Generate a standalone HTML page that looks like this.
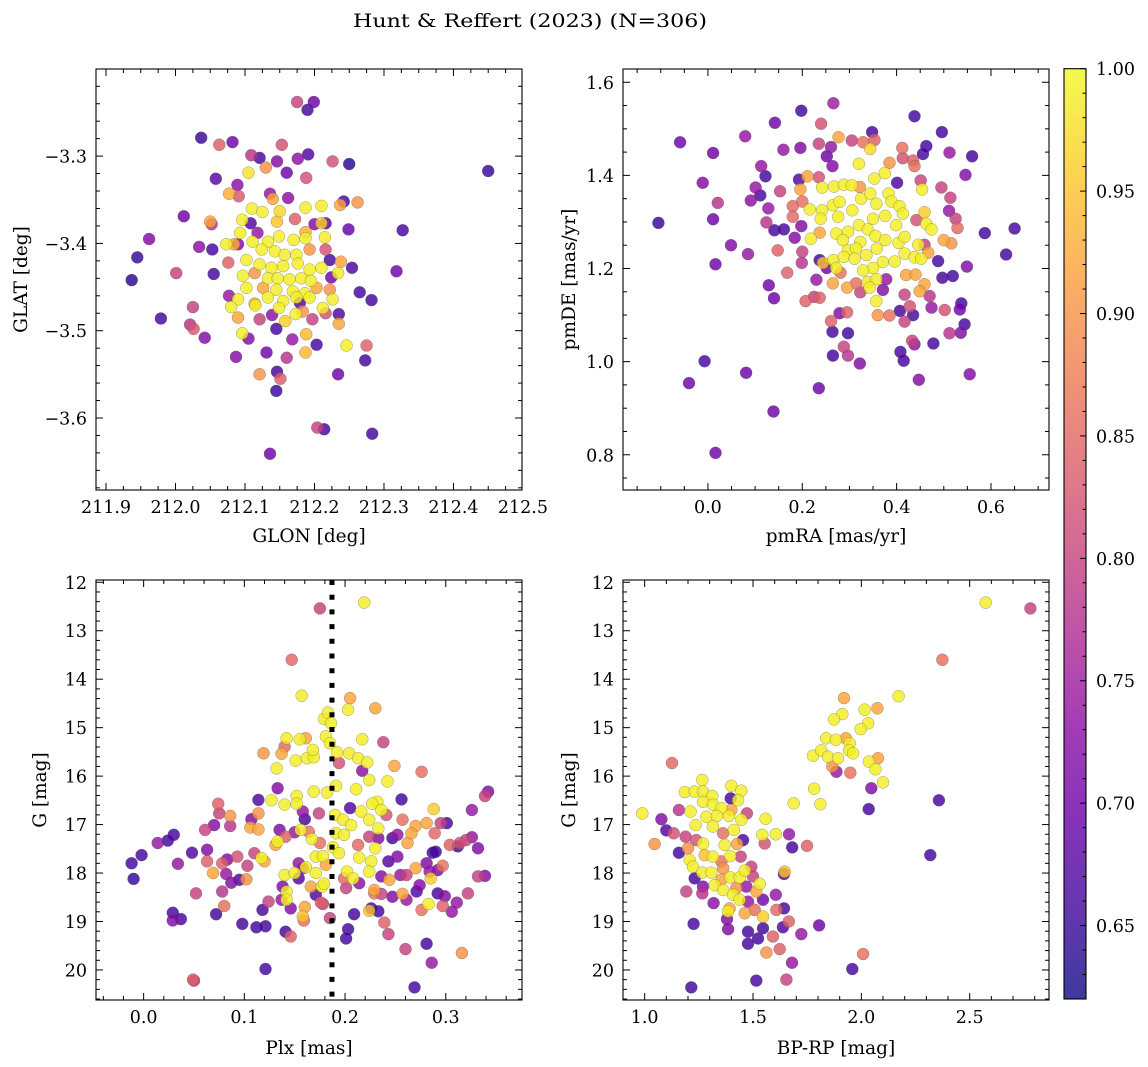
<!DOCTYPE html>
<html><head><meta charset="utf-8"><title>Hunt & Reffert (2023)</title>
<style>
html,body{margin:0;padding:0;background:#fff;}
svg{display:block;font-family:"DejaVu Serif","Liberation Serif",serif;}
</style></head>
<body>
<svg id="fig" width="1148" height="1067" viewBox="0 0 1148 1067" xmlns="http://www.w3.org/2000/svg">
<defs>
<linearGradient id="cbgrad" x1="0" y1="1" x2="0" y2="0"></linearGradient>
</defs>
<text x="530" y="27" text-anchor="middle" font-size="19" textLength="354" lengthAdjust="spacingAndGlyphs">Hunt &amp; Reffert (2023) (N=306)</text>
</svg>
<script>
// ---------- Panel 1: GLON / GLAT ----------
const glon = [
212.175,212.199,212.190,212.037,212.063,212.082,212.153,212.109,212.121,212.146,
212.176,212.191,212.226,212.250,212.450,212.130,212.105,212.160,212.188,212.058,
212.089,212.077,212.091,212.136,212.162,212.140,212.242,212.262,212.237,212.187,
212.210,212.110,212.125,212.150,212.012,212.172,212.096,212.050,212.052,212.108,
212.146,212.200,212.216,212.210,212.249,212.327,211.962,212.093,212.118,212.187,
212.215,212.034,212.053,212.073,212.090,212.084,211.945,212.111,212.133,212.149,
212.170,212.187,212.124,212.143,212.157,212.174,212.193,212.216,212.222,212.238,
212.102,212.121,212.138,212.155,212.176,212.193,212.210,212.076,212.001,212.055,
211.937,212.097,212.114,212.133,212.147,212.164,212.181,212.195,212.224,212.234,
212.254,212.318,212.102,212.126,212.145,212.169,212.186,212.203,212.222,212.077,
212.090,212.114,212.133,212.155,212.174,212.193,212.226,212.265,212.282,212.025,
212.080,212.115,212.149,212.179,212.183,212.212,212.216,211.979,212.021,212.026,
212.090,212.121,212.139,212.158,212.173,212.197,212.235,212.235,212.145,212.096,
212.105,212.042,212.188,212.168,212.203,212.246,212.275,212.087,212.131,212.160,
212.187,212.273,212.121,212.146,212.151,212.234,212.145,212.204,212.214,212.283,
212.136];
const glat = [
-3.238,-3.238,-3.247,-3.279,-3.287,-3.284,-3.287,-3.299,-3.302,-3.306,
-3.303,-3.298,-3.306,-3.309,-3.317,-3.313,-3.319,-3.319,-3.325,-3.326,
-3.333,-3.343,-3.346,-3.343,-3.348,-3.349,-3.352,-3.353,-3.356,-3.359,
-3.357,-3.360,-3.364,-3.363,-3.369,-3.372,-3.373,-3.375,-3.378,-3.377,
-3.375,-3.378,-3.377,-3.377,-3.384,-3.385,-3.395,-3.388,-3.388,-3.387,
-3.393,-3.404,-3.407,-3.401,-3.401,-3.401,-3.416,-3.398,-3.398,-3.392,
-3.396,-3.394,-3.407,-3.409,-3.413,-3.413,-3.407,-3.407,-3.419,-3.421,
-3.419,-3.424,-3.428,-3.426,-3.423,-3.430,-3.428,-3.422,-3.434,-3.435,
-3.442,-3.437,-3.434,-3.440,-3.440,-3.441,-3.440,-3.443,-3.439,-3.434,
-3.428,-3.432,-3.451,-3.451,-3.453,-3.455,-3.457,-3.451,-3.453,-3.460,
-3.464,-3.469,-3.462,-3.466,-3.462,-3.462,-3.464,-3.456,-3.465,-3.473,
-3.473,-3.471,-3.474,-3.468,-3.478,-3.474,-3.480,-3.486,-3.493,-3.498,
-3.485,-3.487,-3.482,-3.489,-3.481,-3.487,-3.481,-3.492,-3.498,-3.503,
-3.509,-3.508,-3.504,-3.510,-3.516,-3.517,-3.517,-3.530,-3.525,-3.531,
-3.525,-3.534,-3.550,-3.547,-3.555,-3.550,-3.569,-3.611,-3.613,-3.618,
-3.641];
const prob1 = [
.80,.70,.66,.65,.84,.70,.82,.78,.66,.72,
.73,.67,.82,.64,.65,.90,.98,.70,.82,.68,
.73,.93,.83,.74,.73,.92,.66,.90,.92,.99,
.99,.99,.99,.97,.70,.84,.99,.92,.78,.67,
.95,.72,.67,.96,.69,.66,.72,.99,.74,.93,
.99,.73,.66,.99,.72,.93,.65,.99,.99,.99,
.99,.99,.99,.99,.99,.99,.90,.82,.66,.92,
.99,.99,.99,.99,.99,.99,.99,.84,.80,.66,
.64,.99,.90,.99,.99,.99,.99,.99,.70,.99,
.66,.70,.99,.92,.99,.99,.99,.92,.90,.74,
.99,.92,.99,.99,.99,.99,.99,.66,.66,.80,
.99,.99,.99,.67,.90,.99,.82,.66,.78,.83,
.92,.80,.73,.96,.99,.80,.67,.92,.66,.99,
.72,.72,.94,.74,.66,.99,.84,.72,.70,.78,
.94,.66,.90,.66,.84,.70,.65,.80,.66,.66,
.70];

// ---------- Panel 2: pmRA / pmDE ----------
const pmra = [
-0.105,-0.059,0.011,-0.011,0.021,0.011,0.016,0.049,0.085,-0.007,
-0.040,0.081,0.139,0.016,0.235,0.142,0.198,0.266,0.240,0.079,
0.160,0.196,0.235,0.261,0.277,0.305,0.348,0.329,0.353,0.344,
0.438,0.496,0.463,0.456,0.512,0.560,0.412,0.413,0.435,0.438,
0.385,0.320,0.252,0.264,0.113,0.122,0.193,0.211,0.235,0.546,
0.101,0.111,0.091,0.153,0.196,0.242,0.267,0.288,0.305,0.322,
0.353,0.375,0.401,0.451,0.454,0.495,0.514,0.128,0.180,0.200,
0.216,0.242,0.265,0.279,0.306,0.325,0.344,0.357,0.383,0.389,
0.406,0.413,0.376,0.350,0.459,0.511,0.525,0.124,0.141,0.161,
0.180,0.198,0.239,0.276,0.297,0.320,0.339,0.399,0.442,0.463,
0.474,0.529,0.587,0.650,0.184,0.218,0.237,0.272,0.286,0.323,
0.355,0.376,0.404,0.417,0.446,0.459,0.500,0.516,0.148,0.200,
0.297,0.314,0.358,0.336,0.417,0.467,0.632,0.199,0.237,0.244,
0.266,0.288,0.311,0.350,0.371,0.396,0.438,0.452,0.488,0.549,
0.168,0.252,0.272,0.329,0.281,0.378,0.420,0.440,0.497,0.519,
0.230,0.265,0.295,0.314,0.339,0.357,0.343,0.371,0.459,0.449,
0.129,0.140,0.207,0.225,0.237,0.323,0.357,0.417,0.470,0.474,
0.502,0.537,0.534,0.428,0.407,0.435,0.360,0.385,0.417,0.279,
0.295,0.261,0.264,0.297,0.544,0.512,0.536,0.433,0.438,0.478,
0.288,0.265,0.297,0.322,0.408,0.415,0.447,0.555];
const pmde = [
1.298,1.471,1.448,1.384,1.341,1.306,1.209,1.250,1.231,1.001,
0.954,0.976,0.893,0.804,0.943,1.513,1.539,1.555,1.511,1.484,
1.455,1.459,1.468,1.461,1.482,1.475,1.493,1.471,1.476,1.457,
1.527,1.493,1.463,1.446,1.449,1.441,1.459,1.437,1.432,1.420,
1.427,1.425,1.441,1.420,1.420,1.398,1.391,1.398,1.396,1.401,
1.374,1.357,1.346,1.366,1.370,1.374,1.376,1.380,1.379,1.375,
1.393,1.405,1.384,1.389,1.370,1.374,1.352,1.329,1.334,1.344,
1.327,1.325,1.336,1.343,1.325,1.350,1.361,1.339,1.361,1.344,
1.334,1.318,1.313,1.307,1.321,1.324,1.307,1.299,1.282,1.284,
1.311,1.291,1.307,1.311,1.279,1.293,1.284,1.293,1.304,1.296,
1.284,1.287,1.276,1.286,1.266,1.264,1.277,1.275,1.261,1.257,
1.270,1.261,1.255,1.268,1.251,1.251,1.261,1.254,1.239,1.236,
1.239,1.243,1.243,1.229,1.232,1.234,1.230,1.212,1.218,1.212,
1.218,1.225,1.221,1.201,1.214,1.215,1.224,1.221,1.216,1.204,
1.191,1.201,1.201,1.196,1.191,1.177,1.186,1.187,1.180,1.184,
1.176,1.168,1.159,1.168,1.171,1.177,1.159,1.154,1.166,1.151,
1.164,1.136,1.130,1.139,1.137,1.149,1.130,1.144,1.141,1.116,
1.111,1.125,1.112,1.119,1.109,1.100,1.100,1.099,1.086,1.104,
1.106,1.087,1.064,1.061,1.080,1.061,1.062,1.045,1.037,1.039,
1.032,1.013,1.013,0.996,1.021,1.002,0.961,0.973];
const prob2 = [
.65,.70,.70,.72,.78,.70,.70,.72,.74,.66,
.70,.70,.70,.70,.70,.70,.66,.75,.82,.74,
.74,.72,.80,.74,.92,.80,.66,.86,.84,.97,
.66,.66,.66,.66,.74,.66,.86,.82,.84,.86,
.90,.99,.70,.72,.74,.66,.67,.92,.82,.72,
.74,.66,.73,.80,.92,.99,.99,.99,.99,.90,
.99,.99,.67,.80,.99,.80,.80,.74,.85,.86,
.99,.99,.99,.99,.99,.99,.99,.99,.99,.99,
.99,.99,.99,.99,.96,.74,.80,.78,.66,.66,
.85,.72,.99,.99,.99,.99,.99,.99,.82,.99,
.99,.85,.66,.66,.72,.99,.92,.99,.99,.99,
.99,.99,.99,.99,.99,.80,.92,.90,.84,.80,
.99,.99,.99,.99,.99,.92,.66,.78,.66,.95,
.99,.99,.99,.99,.99,.99,.99,.99,.66,.72,
.84,.70,.99,.99,.86,.74,.92,.92,.66,.66,
.74,.92,.92,.86,.99,.99,.99,.72,.92,.92,
.70,.70,.84,.80,.84,.80,.99,.80,.78,.74,
.82,.66,.70,.82,.66,.66,.90,.86,.80,.72,
.84,.84,.66,.66,.66,.78,.72,.80,.73,.66,
.80,.66,.78,.72,.66,.66,.72,.72];

// ---------- Panel 3: Plx / G ----------
const plx = [
0.175,0.219,0.147,0.157,0.205,0.203,0.230,0.179,0.183,0.186,
0.142,0.161,0.155,0.140,0.119,0.137,0.151,0.162,0.169,0.168,
0.132,0.181,0.185,0.192,0.204,0.213,0.222,0.217,0.194,0.238,
0.249,0.276,0.217,0.224,0.242,0.211,0.191,0.182,0.169,0.152,
0.133,0.127,0.140,0.152,0.114,0.256,0.342,0.339,0.326,0.288,
0.232,0.227,0.236,0.216,0.205,0.190,0.198,0.206,0.224,0.233,
0.241,0.257,0.270,0.281,0.295,0.301,0.074,0.075,0.086,0.107,
0.114,0.158,0.174,0.160,0.070,0.061,0.086,0.106,0.114,0.135,
0.150,0.156,0.164,0.141,0.030,0.024,0.014,0.133,0.131,0.167,
0.175,0.191,0.199,0.213,0.224,0.233,0.230,0.247,0.252,0.262,
0.266,0.289,0.304,0.312,0.314,0.320,0.326,0.332,-0.002,-0.012,
-0.010,0.034,0.048,0.063,0.063,0.078,0.083,0.093,0.103,0.110,
0.120,0.117,0.154,0.158,0.171,0.178,0.181,0.188,0.194,0.214,
0.226,0.243,0.252,0.287,0.290,0.297,0.281,0.284,0.069,0.082,
0.087,0.095,0.102,0.140,0.150,0.154,0.161,0.171,0.199,0.202,
0.208,0.214,0.224,0.236,0.244,0.255,0.261,0.270,0.285,0.292,
0.332,0.339,0.052,0.078,0.080,0.124,0.138,0.142,0.137,0.142,
0.166,0.171,0.177,0.179,0.176,0.178,0.201,0.229,0.236,0.229,
0.247,0.257,0.261,0.271,0.274,0.292,0.299,0.297,0.283,0.311,
0.322,0.029,0.029,0.037,0.072,0.118,0.146,0.160,0.158,0.159,
0.185,0.209,0.224,0.226,0.233,0.276,0.306,0.098,0.112,0.121,
0.141,0.146,0.203,0.201,0.239,0.243,0.260,0.281,0.286,0.316,
0.121,0.049,0.050,0.269];
const gmag3 = [
12.54,12.42,13.60,14.34,14.39,14.63,14.60,14.82,14.69,14.91,
15.22,15.22,15.24,15.39,15.53,15.54,15.68,15.63,15.61,15.46,
15.84,15.18,15.32,15.51,15.53,15.63,15.72,15.24,15.73,15.30,
15.79,15.91,15.89,16.08,16.11,16.27,16.20,16.34,16.32,16.41,
16.25,16.50,16.59,16.57,16.49,16.48,16.32,16.41,16.70,16.68,
16.53,16.57,16.70,16.73,16.66,16.80,16.90,17.01,16.90,17.08,
16.80,16.90,17.03,16.97,16.97,16.97,16.57,16.77,16.82,16.89,
16.77,16.73,16.77,16.89,17.01,17.11,17.03,17.06,17.10,17.11,
17.16,17.11,17.15,17.25,17.21,17.33,17.38,17.35,17.42,17.30,
17.38,17.18,17.21,17.42,17.25,17.28,17.49,17.28,17.21,17.38,
17.18,17.18,17.42,17.45,17.38,17.32,17.26,17.49,17.63,17.80,
18.12,17.81,17.58,17.52,17.76,17.80,17.72,17.66,17.85,17.59,
17.76,17.69,17.80,17.90,17.66,17.65,17.83,17.47,17.59,17.68,
17.76,17.76,17.66,17.58,17.56,17.85,17.80,17.97,18.00,18.02,
18.20,18.14,18.13,18.04,18.00,18.11,17.88,18.00,18.11,17.97,
18.11,18.21,17.97,18.07,18.14,18.04,18.04,17.90,18.11,17.94,
18.07,18.06,18.42,18.38,18.68,18.59,18.28,18.38,18.55,18.55,
18.28,18.45,18.28,18.22,18.61,18.64,18.31,18.35,18.43,18.42,
18.49,18.43,18.55,18.38,18.25,18.42,18.48,18.68,18.64,18.61,
18.42,18.82,18.98,18.95,18.85,18.76,18.73,18.70,18.90,18.98,
18.93,18.85,18.78,18.73,18.79,18.76,18.80,19.05,19.12,19.10,
19.21,19.31,19.16,19.35,19.02,19.26,19.57,19.46,19.85,19.65,
19.98,20.20,20.22,20.36];
const prob3 = [
.80,.99,.85,.99,.92,.99,.92,.99,.99,.99,
.99,.92,.99,.85,.90,.92,.99,.99,.99,.99,
.99,.99,.99,.99,.99,.99,.99,.99,.82,.80,
.92,.86,.73,.99,.99,.99,.99,.99,.99,.99,
.72,.99,.99,.99,.67,.66,.72,.80,.74,.96,
.99,.99,.99,.99,.67,.99,.99,.99,.99,.99,
.82,.86,.92,.92,.80,.66,.84,.80,.90,.72,
.90,.74,.80,.66,.72,.80,.78,.92,.92,.72,
.74,.99,.86,.84,.66,.66,.74,.99,.92,.99,
.86,.99,.99,.85,.80,.72,.99,.66,.74,.92,
.92,.85,.84,.66,.82,.80,.74,.72,.66,.66,
.65,.74,.67,.72,.84,.84,.72,.82,.80,.80,
.92,.99,.74,.72,.99,.99,.92,.99,.99,.99,
.99,.67,.72,.66,.66,.86,.72,.74,.92,.74,
.72,.66,.90,.99,.99,.67,.99,.99,.85,.99,
.99,.73,.99,.72,.92,.74,.80,.92,.96,.72,
.80,.72,.80,.78,.86,.80,.72,.99,.74,.99,
.92,.67,.99,.99,.84,.80,.80,.92,.80,.86,
.72,.92,.74,.67,.72,.66,.72,.84,.99,.74,
.80,.66,.72,.66,.66,.66,.72,.92,.95,.86,
.80,.66,.95,.66,.66,.86,.74,.66,.66,.66,
.66,.84,.66,.66,.84,.80,.80,.66,.74,.90,
.66,.84,.78,.66];

// ---------- Panel 4: BP-RP / G ----------
const bprp = [
2.574,2.780,2.374,2.172,1.920,2.015,2.074,1.912,1.874,2.031,
1.997,1.838,1.882,1.928,1.946,1.777,1.815,1.846,1.892,1.943,
1.962,1.885,1.949,1.866,2.035,2.077,2.065,2.100,2.046,2.034,
2.358,2.318,1.782,1.811,1.688,1.126,0.989,1.046,1.077,1.100,
1.134,1.158,1.158,1.185,1.231,1.266,1.269,1.312,1.400,1.446,
1.431,1.397,1.212,1.269,1.315,1.354,1.400,1.472,1.235,1.285,
1.334,1.389,1.446,1.558,1.189,1.238,1.315,1.362,1.412,1.454,
1.426,1.543,1.605,1.666,1.554,1.681,1.749,1.269,1.200,1.208,
1.277,1.315,1.369,1.395,1.354,1.443,1.492,1.223,1.266,1.308,
1.362,1.395,1.438,1.462,1.500,1.646,1.643,1.231,1.269,1.323,
1.354,1.362,1.423,1.469,1.531,1.515,1.192,1.266,1.318,1.408,
1.438,1.477,1.546,1.605,1.392,1.385,1.462,1.508,1.546,1.608,
1.643,1.380,1.226,1.385,1.477,1.546,1.638,1.665,1.723,1.805,
1.477,1.523,1.592,1.562,1.623,1.680,2.008,1.958,1.515,1.654,
1.215];
const gmag4 = [
12.42,12.54,13.60,14.35,14.39,14.63,14.60,14.72,14.83,14.91,
15.03,15.22,15.25,15.22,15.32,15.58,15.47,15.60,15.63,15.47,
15.53,15.91,15.93,15.80,15.70,15.63,15.86,16.13,16.25,16.68,
16.50,17.63,16.26,16.58,16.56,15.73,16.77,17.40,16.89,17.12,
17.18,16.70,17.58,16.33,16.32,16.08,16.32,16.41,16.20,16.30,
16.50,16.46,16.73,16.53,16.59,16.66,16.70,16.77,17.01,16.84,
16.82,16.82,16.90,16.88,17.25,17.32,17.04,17.18,17.11,17.32,
17.40,17.21,17.20,17.20,17.39,17.47,17.44,17.39,17.49,17.73,
17.63,17.66,17.42,17.65,17.76,17.66,17.87,17.87,17.99,17.99,
17.90,18.09,18.09,17.95,18.07,17.97,18.02,18.11,18.28,18.25,
18.14,18.35,18.31,18.28,18.22,18.38,18.38,18.42,18.62,18.45,
18.55,18.59,18.55,18.45,18.73,18.79,18.83,18.76,18.90,18.76,
18.73,18.95,19.05,19.16,19.21,19.14,19.12,19.00,19.26,19.08,
19.46,19.35,19.31,19.64,19.57,19.85,19.67,19.98,20.22,20.20,
20.36];
const prob4 = [
.99,.80,.86,.99,.92,.99,.92,.99,.99,.99,
.99,.99,.99,.92,.99,.99,.99,.99,.99,.99,
.99,.74,.86,.90,.99,.92,.99,.99,.72,.66,
.66,.66,.99,.99,.99,.85,.99,.90,.72,.67,
.82,.78,.66,.99,.99,.99,.99,.99,.99,.99,
.99,.66,.99,.99,.99,.99,.92,.80,.99,.99,
.99,.99,.99,.99,.80,.82,.99,.86,.99,.66,
.92,.99,.99,.74,.82,.66,.84,.99,.90,.99,
.95,.99,.99,.99,.86,.80,.80,.99,.99,.99,
.90,.99,.99,.99,.80,.95,.67,.66,.72,.99,
.92,.99,.90,.74,.99,.92,.80,.78,.73,.99,
.99,.74,.70,.74,.92,.99,.92,.86,.96,.85,
.66,.72,.66,.72,.66,.66,.67,.84,.74,.70,
.66,.66,.84,.90,.84,.74,.86,.66,.66,.80,
.66];

// colour scale
const cbTicks = [0.65,0.70,0.75,0.80,0.85,0.90,0.95,1.00];
const vmin = 0.62, vmax = 1.0;
const plasma = ["#0d0887","#41049d","#6a00a8","#8f0da4","#b12a90","#cc4778","#e16462","#f2844b","#fca636","#fcce25","#f0f921"];

const NS = "http://www.w3.org/2000/svg";
const svg = document.getElementById('fig');
function mk(tag, attrs, parent){
  const e = document.createElementNS(NS, tag);
  for (const k in attrs) e.setAttribute(k, attrs[k]);
  (parent||svg).appendChild(e);
  return e;
}
function hex(h){return [parseInt(h.slice(1,3),16),parseInt(h.slice(3,5),16),parseInt(h.slice(5,7),16)];}
function cmap(v){
  let t = (v - vmin)/(vmax - vmin); t = Math.max(0, Math.min(1, t));
  const s = t*(plasma.length-1); const i = Math.min(plasma.length-2, Math.floor(s)); const f = s - i;
  const a = hex(plasma[i]), b = hex(plasma[i+1]);
  return 'rgb('+a.map((c,k)=>Math.round(c+(b[k]-c)*f)).join(',')+')';
}
function fmt(v, d){ const s = v.toFixed(d); return s.startsWith('-') ? '\u2212'+s.slice(1) : s; }

const TICK_FS = 17.5, LABEL_FS = 18.5;

function panel(cfg){
  const {name, x0, y0, w, h, xlim, ylim, invY, xMaj, xMin, yMaj, yMin, xd, yd, xlabel, ylabel, xs, ys, ps} = cfg;
  const g = mk('g', {});
  
  
  const X = v => x0 + (v - xlim[0])/(xlim[1]-xlim[0])*w;
  const Y = v => invY ? y0 + (v - ylim[0])/(ylim[1]-ylim[0])*h : y0 + h - (v - ylim[0])/(ylim[1]-ylim[0])*h;
  const idx = ps.map((p,i)=>i).filter(i=>i<xs.length && i<ys.length).sort((a,b)=>ps[a]-ps[b]);
  const pts = mk('g', {}, g);
  
  
  idx.forEach(i=>{
    const c = mk('circle', {cx: X(xs[i]).toFixed(1), cy: Y(ys[i]).toFixed(1), r: 6, fill: cmap(ps[i]), 'fill-opacity': 0.82, stroke: '#555', 'stroke-width': 0.35, 'stroke-opacity': 0.8}, pts);
    
    
  });
  if (cfg.vline !== undefined){
    const l = mk('line', {x1: X(cfg.vline), x2: X(cfg.vline), y1: y0, y2: y0+h, stroke: '#000', 'stroke-width': 5, 'stroke-dasharray': '5 9.7'}, g);
    
    
  }
  const fr = mk('rect', {x: x0, y: y0, width: w, height: h, fill: 'none', stroke: '#000', 'stroke-width': 1.1}, g);
  
  
  const tk = mk('g', {stroke: '#000', 'stroke-width': 1}, g);
  
  
  const eps = 1e-9;
  for (let v = Math.ceil(xlim[0]/xMin - eps)*xMin; v <= xlim[1]+eps; v += xMin){
    const px = X(v); const major = xMaj.some(m=>Math.abs(m-v)<xMin/3); const L = major?7:4;
    mk('line', {x1: px, x2: px, y1: y0+h, y2: y0+h-L}, tk);
    mk('line', {x1: px, x2: px, y1: y0, y2: y0+L}, tk);
  }
  for (let v = Math.ceil(ylim[0]/yMin - eps)*yMin; v <= ylim[1]+eps; v += yMin){
    const py = Y(v); const major = yMaj.some(m=>Math.abs(m-v)<yMin/3); const L = major?7:4;
    mk('line', {x1: x0, x2: x0+L, y1: py, y2: py}, tk);
    mk('line', {x1: x0+w, x2: x0+w-L, y1: py, y2: py}, tk);
  }
  xMaj.forEach(v=>{
    const t = mk('text', {x: X(v), y: y0+h+23, 'text-anchor': 'middle', 'font-size': TICK_FS}, g);
    t.textContent = fmt(v, xd);
    
    
  });
  yMaj.forEach(v=>{
    const t = mk('text', {x: x0-9, y: Y(v)+6.5, 'text-anchor': 'end', 'font-size': TICK_FS}, g);
    t.textContent = fmt(v, yd);
    
    
  });
  const xl = mk('text', {x: x0+w/2, y: y0+h+cfg.xlo, 'text-anchor': 'middle', 'font-size': LABEL_FS}, g);
  xl.textContent = xlabel;
  
  
  const yx = cfg.ylx, yy = y0+h/2;
  const yl = mk('text', {x: yx, y: yy, 'text-anchor': 'middle', 'font-size': LABEL_FS, transform: 'rotate(-90 '+yx+' '+yy+')'}, g);
  yl.textContent = ylabel;
  
  
}

panel({name:'glon-glat-panel', x0:96, y0:69, w:426, h:421, xlim:[211.8856,212.4986], ylim:[-3.6825,-3.2002], invY:false,
  xMaj:[211.9,212.0,212.1,212.2,212.3,212.4,212.5], xMin:0.025, yMaj:[-3.6,-3.5,-3.4,-3.3], yMin:0.02, xd:1, yd:1,
  xlabel:'GLON [deg]', ylabel:'GLAT [deg]', ylx:27, xlo:52, xs:glon, ys:glat, ps:prob1});
panel({name:'pm-panel', x0:623, y0:69, w:426, h:421, xlim:[-0.180,0.723], ylim:[0.7243,1.6285], invY:false,
  xMaj:[0.0,0.2,0.4,0.6], xMin:0.05, yMaj:[0.8,1.0,1.2,1.4,1.6], yMin:0.05, xd:1, yd:1,
  xlabel:'pmRA [mas/yr]', ylabel:'pmDE [mas/yr]', ylx:575, xlo:52, xs:pmra, ys:pmde, ps:prob2});
panel({name:'plx-g-panel', x0:96, y0:580, w:426, h:420, xlim:[-0.0473,0.3757], ylim:[11.953,20.62], invY:true,
  xMaj:[0.0,0.1,0.2,0.3], xMin:0.02, yMaj:[12,13,14,15,16,17,18,19,20], yMin:0.2, xd:1, yd:0,
  xlabel:'Plx [mas]', ylabel:'G [mag]', ylx:46, xlo:54, xs:plx, ys:gmag3, ps:prob3, vline:0.187});
panel({name:'cmd-panel', x0:623, y0:580, w:426, h:420, xlim:[0.90,2.866], ylim:[11.953,20.62], invY:true,
  xMaj:[1.0,1.5,2.0,2.5], xMin:0.1, yMaj:[12,13,14,15,16,17,18,19,20], yMin:0.2, xd:1, yd:0,
  xlabel:'BP-RP [mag]', ylabel:'G [mag]', ylx:575, xlo:54, xs:bprp, ys:gmag4, ps:prob4});

// colorbar
(function(){
  const cx = 1064, cw = 22, ct = 68.7, cb = 999;
  const grad = document.getElementById('cbgrad');
  plasma.forEach((c,i)=>{ mk('stop', {offset: (i/(plasma.length-1)*100)+'%', 'stop-color': c, 'stop-opacity': 0.8}, grad); });
  const Yc = v => cb - (v - vmin)/(vmax - vmin)*(cb - ct);
  const g = mk('g', {});
  
  
  mk('rect', {x: cx, y: ct, width: cw, height: cb-ct, fill: 'url(#cbgrad)', stroke: '#000', 'stroke-width': 1.1}, g);
  for (let k = Math.ceil(vmin*100); k <= 100; k++){
    const v = k/100; const major = cbTicks.some(m=>Math.abs(m-v)<0.002);
    mk('line', {x1: cx+cw, x2: cx+cw-(major?6:3.5), y1: Yc(v), y2: Yc(v), stroke: '#000', 'stroke-width': 1}, g);
  }
  cbTicks.forEach(v=>{
    const t = mk('text', {x: cx+cw+10, y: Yc(v)+6.5, 'font-size': TICK_FS}, g);
    t.textContent = v.toFixed(2);
    
    
  });
})();
</script>
</body></html>
